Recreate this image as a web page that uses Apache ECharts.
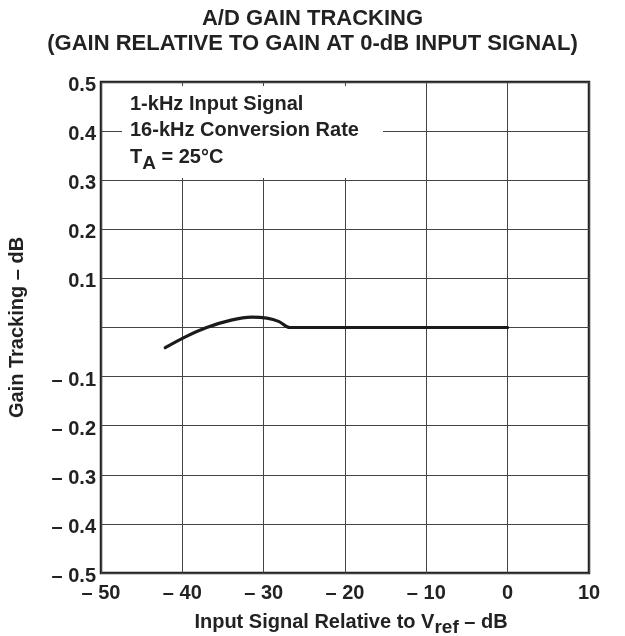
<!DOCTYPE html>
<html>
<head>
<meta charset="utf-8">
<script src="https://cdn.jsdelivr.net/npm/echarts@6/dist/echarts.min.js"></script>
<style>
  html, body { margin: 0; padding: 0; background: #fff; }
  #chart-container { width: 625px; height: 636px; }
</style>
</head>
<body>
<div id="chart-container"></div>
<script>
// input level (dB re Vref) and gain tracking (dB)
const inputLevel = [-42.1, -39.5, -37.0, -34.0, -31.5, -29.6, -28.1, -26.8, -26.0, -13, 0];
const gainTracking = [-0.041, -0.018, 0.000, 0.015, 0.021, 0.019, 0.012, 0.000, 0, 0, 0];

const noteLines = ["1-kHz Input Signal", "16-kHz Conversion Rate"];

const FONT = "Liberation Sans, Arial, Helvetica, sans-serif";

let dom = document.getElementById("chart-container");
let myChart = echarts.init(dom, null, { renderer: "canvas" });

function dashLabel(v) {
    if (v < 0) return "\u2013 " + Math.abs(v);
    return String(v);
}

let option = {
    backgroundColor: "#fff",
    animation: false,
    textStyle: { fontFamily: FONT },
    title: {
        text: "A/D GAIN TRACKING\n(GAIN RELATIVE TO GAIN AT 0-dB INPUT SIGNAL)",
        left: "center",
        top: 6,
        padding: [0, 0, 0, 47],
        textStyle: {
            fontFamily: FONT,
            fontWeight: "bold",
            fontSize: 22,
            lineHeight: 25,
            color: "#222",
        },
    },
    grid: {
        left: 101,
        right: 36,
        top: 82,
        bottom: 63,
        containLabel: false,
        outerBoundsMode: "none",
        show: true,
        borderWidth: 2.5,
        borderColor: "#222",
        backgroundColor: "#fff",
    },
    xAxis: {
        type: "value",
        min: -50,
        max: 10,
        interval: 10,
        name: "{n|Input Signal Relative to V}{s|ref}{n| \u2013 dB}",
        nameLocation: "middle",
        nameGap: 35,
        nameTextStyle: {
            padding: [0, 0, 0, 12],
            rich: {
                n: { fontFamily: FONT, fontWeight: "bold", fontSize: 20, color: "#222" },
                s: { fontFamily: FONT, fontWeight: "bold", fontSize: 19, color: "#222", padding: [10, 0, 0, 0] },
            },
        },
        axisLine: { show: false },
        axisTick: { show: false },
        axisLabel: {
            margin: 10,
            fontFamily: FONT,
            fontWeight: "bold",
            fontSize: 20,
            color: "#222",
            formatter: dashLabel,
        },
        splitLine: { show: true, lineStyle: { color: "#444", width: 1 } },
    },
    yAxis: {
        type: "value",
        min: -0.5,
        max: 0.5,
        interval: 0.1,
        name: "Gain Tracking \u2013 dB",
        nameLocation: "middle",
        nameGap: 74,
        nameTextStyle: { fontFamily: FONT, fontWeight: "bold", fontSize: 20, color: "#222" },
        axisLine: { show: false },
        axisTick: { show: false },
        axisLabel: {
            margin: 5,
            formatter: function (v) {
                if (Math.abs(v) < 1e-9) return "";
                let s = v < 0 ? "\u2013 " + Math.abs(v).toFixed(1) : v.toFixed(1);
                return "{v|" + s + "}";
            },
            rich: {
                v: {
                    fontFamily: FONT,
                    fontWeight: "bold",
                    fontSize: 20,
                    color: "#222",
                    padding: [7, 0, 0, 0],
                },
            },
        },
        splitLine: { show: true, lineStyle: { color: "#444", width: 1 } },
    },
    graphic: [
        {
            type: "rect",
            z: 50,
            shape: { x: 122, y: 86, width: 261, height: 92 },
            style: { fill: "#fff" },
        },
        {
            type: "text",
            z: 51,
            x: 130,
            y: 104,
            style: {
                text: noteLines[0],
                font: "bold 20px " + FONT,
                fill: "#222",
                verticalAlign: "middle",
            },
        },
        {
            type: "text",
            z: 51,
            x: 130,
            y: 130,
            style: {
                text: noteLines[1],
                font: "bold 20px " + FONT,
                fill: "#222",
                verticalAlign: "middle",
            },
        },
        {
            type: "text",
            z: 51,
            x: 130,
            y: 157,
            style: {
                text: "{t|T}{s|A}{t| = 25\u00b0C}",
                verticalAlign: "middle",
                rich: {
                    t: { font: "bold 20px " + FONT, fill: "#222" },
                    s: { font: "bold 19px " + FONT, fill: "#222", padding: [14, 0, 0, 0] },
                },
            },
        },
    ],
    series: [
        {
            type: "line",
            data: inputLevel.map((x, i) => [x, gainTracking[i]]),
            smooth: 0.35,
            showSymbol: false,
            symbol: "none",
            lineStyle: { color: "#1a1a1a", width: 3.2, cap: "round" },
        },
    ],
};

myChart.setOption(option);
window.addEventListener("resize", myChart.resize);
</script>
</body>
</html>
